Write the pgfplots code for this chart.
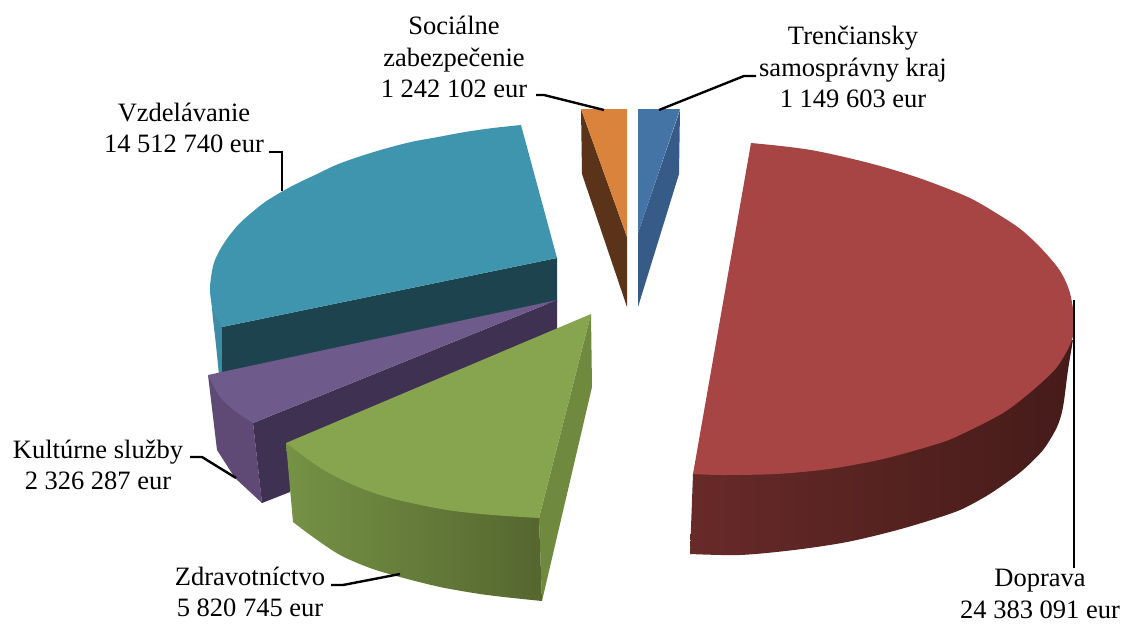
\documentclass[border=0pt]{standalone}
\usepackage{fontspec}
\setmainfont{Liberation Serif}
\usepackage{pgfplots}
\pgfplotsset{compat=1.18}

\definecolor{tealtop}{HTML}{4095AE}
\definecolor{tealrim}{HTML}{3B8CA4}
\definecolor{tealdark}{HTML}{1D444E}
\definecolor{purptop}{HTML}{6F5A8C}
\definecolor{purprim}{HTML}{5F4A75}
\definecolor{purpdark}{HTML}{3F3152}
\definecolor{greentop}{HTML}{87A44F}
\definecolor{greenside}{HTML}{6F8A3E}
\definecolor{greenL}{HTML}{759245}
\definecolor{greenR}{HTML}{55662F}
\definecolor{redtop}{HTML}{A64544}
\definecolor{redL}{HTML}{672A29}
\definecolor{redM}{HTML}{451B19}
\definecolor{orangetop}{HTML}{D9833C}
\definecolor{orangedark}{HTML}{5A3318}
\definecolor{bluetop}{HTML}{4473A5}
\definecolor{bluedark}{HTML}{375B87}

\tikzset{
  slice/.style={draw=none,fill=#1},
  leader/.style={black,line width=2.4pt,line join=miter},
  lbl/.style={align=center,inner sep=0pt,font=\fontsize{26.5}{31.5}\selectfont},
}

\begin{document}
\begin{tikzpicture}
\begin{axis}[
  at={(0,0)},
  width=1122pt,height=624pt,scale only axis,
  xmin=0,xmax=1122,ymin=0,ymax=624,
  y dir=reverse,
  hide axis,
  clip=false,
]
% keeps the page at the full picture size
\addplot[draw=none] coordinates {(0,0) (1122,624)};

% Vzdelavanie
\addplot[slice=tealrim] coordinates {(210,287) (213,319) (216,345) (219,375) (228,375) (222,327)} --cycle;
\addplot[slice=tealdark] coordinates {(557,258) (557,302) (222,375) (222,327)} --cycle;
\addplot[slice=tealtop,smooth] coordinates {(521,125) (493,128) (465,132) (438,137) (411,142) (384,149) (358,157) (336,165) (315,175) (298,183) (283,191) (265,202) (250,214) (239,224) (229,236) (221,248) (215,260) (212,271) (210,287) (211,300) (214,312) (222,327)} -- (axis cs:557,258) --cycle;

% Kulturne sluzby
\addplot[slice=purprim] coordinates {(208,375) (245,395) (253,423) (262,503) (235,478) (217,450)} --cycle;
\addplot[slice=purpdark] coordinates {(557,300) (253,423) (262,503) (290,492) (300,470) (557,340)} --cycle;
\addplot[slice=purptop,smooth] coordinates {(208,375) (220,397) (235,411) (253,423)} -- (axis cs:557,300) --cycle;

% Zdravotnictvo
\addplot[slice=greenside] coordinates {(591,314) (592,387) (542,601) (539,518)} --cycle;
\addplot[draw=none,left color=greenL,right color=greenR,smooth] coordinates {(293,522) (313,537) (340,555) (370,568) (400,577) (440,587) (480,594) (513,598) (542,601)} -- (axis cs:539,518) -- (axis cs:286,443) --cycle;
\addplot[slice=greentop,smooth] coordinates {(286,443) (322,469) (358,487) (394,499) (447,510) (493,515) (539,518)} -- (axis cs:591,314) --cycle;

% Doprava
\addplot[draw=none,left color=redL,middle color=redM,right color=redM,smooth] coordinates {(690,554) (740,555) (794,550) (847,542) (901,529) (955,512) (983,498) (1003,485) (1023,470) (1043,450) (1057,427) (1063,407) (1068,370) (1073,340)} -- (axis cs:693,474) --cycle;
\addplot[slice=redtop,smooth] coordinates {(751,143) (781,146) (811,150) (840,156) (869,163) (894,170) (919,178) (946,188) (972,199) (996,213) (1019,228) (1038,245) (1055,264) (1063,276) (1070,293) (1074,318) (1072,340) (1057,367) (1033,390) (1003,413) (960,435) (937,444) (883,459) (829,469) (776,474) (722,475) (693,474)} --cycle;

% Socialne zabezpecenie
\addplot[slice=orangedark] coordinates {(581,109) (627,237) (627,307) (582,174)} --cycle;
\addplot[slice=orangetop] coordinates {(581,109) (627,109) (627,237)} --cycle;

% Trenciansky samospravny kraj
\addplot[slice=bluedark] coordinates {(680,110) (638,233) (638,307) (679,174)} --cycle;
\addplot[slice=bluetop] coordinates {(638,109) (680,109) (638,233)} --cycle;

% leaders
\addplot[leader] coordinates {(269,152) (282,152) (282,191)};
\addplot[leader] coordinates {(536,95) (544,95) (604,110)};
\addplot[leader] coordinates {(659,110) (744,76) (756,76)};
\addplot[leader] coordinates {(190,457) (202,457) (236,478)};
\addplot[leader] coordinates {(331,585) (343,585) (400,574)};
\addplot[leader] coordinates {(1074,300) (1074,568)};

\node[lbl] at (axis cs:454,57) {Sociálne\\zabezpečenie\\1 242 102 eur};
\node[lbl] at (axis cs:184,128) {Vzdelávanie\\14 512 740 eur};
\node[lbl] at (axis cs:853,67) {Trenčiansky\\samosprávny kraj\\1 149 603 eur};
\node[lbl] at (axis cs:98,465) {Kultúrne služby\\2 326 287 eur};
\node[lbl] at (axis cs:250,592) {Zdravotníctvo\\5 820 745 eur};
\node[lbl] at (axis cs:1040,594) {Doprava\\24 383 091 eur};
\end{axis}
\end{tikzpicture}
\end{document}
